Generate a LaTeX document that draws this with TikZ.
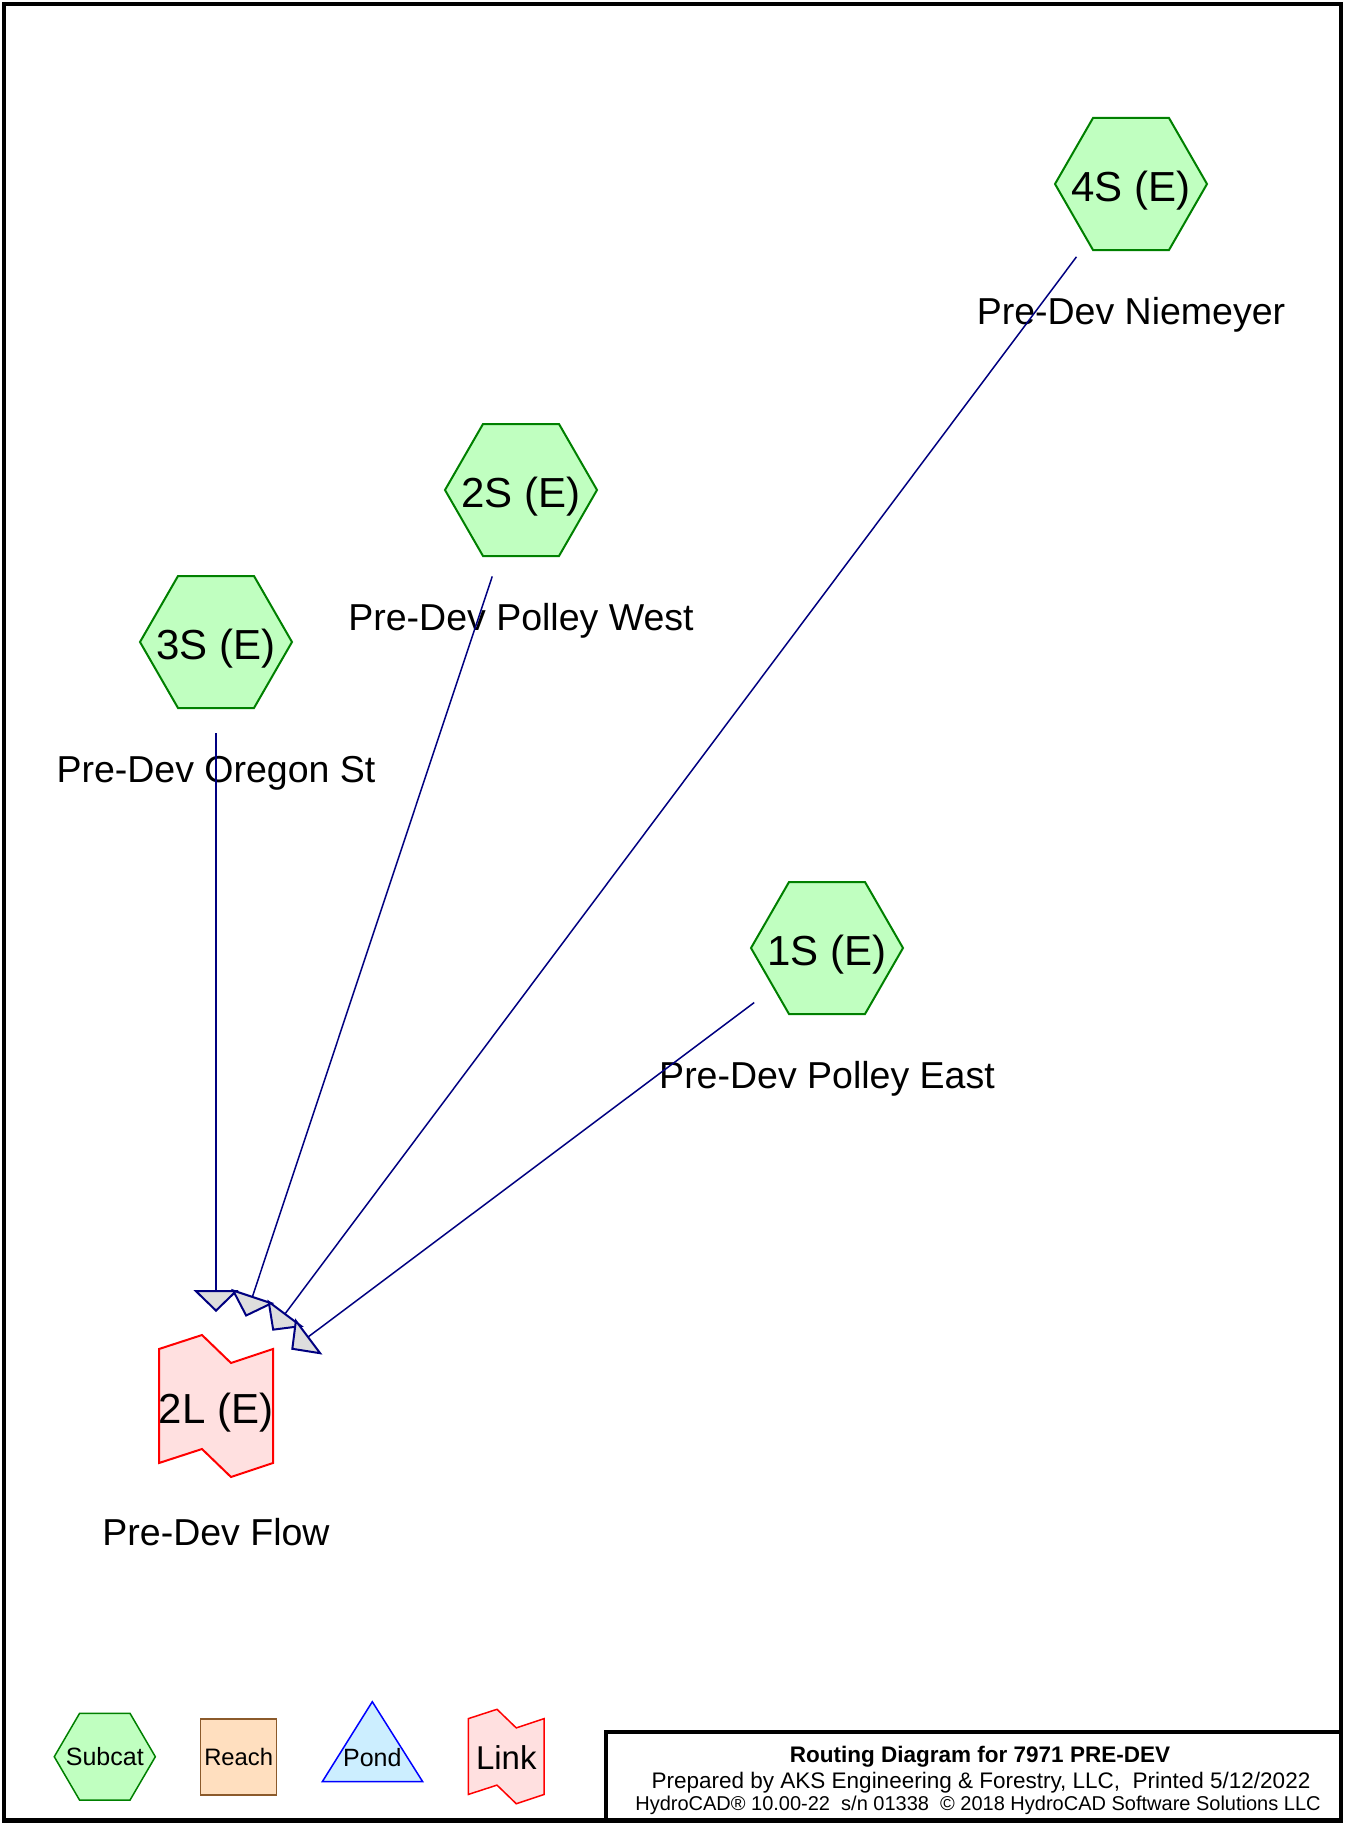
\documentclass[tikz,border=0pt]{standalone}
\usepackage{fontspec}
\setmainfont{Liberation Sans}
\usetikzlibrary{arrows.meta,calc}
\definecolor{subfill}{RGB}{192,255,192}
\definecolor{subline}{RGB}{0,128,0}
\definecolor{linkfill}{RGB}{255,224,224}
\definecolor{linkline}{RGB}{255,0,0}
\definecolor{reachfill}{RGB}{255,223,191}
\definecolor{reachline}{RGB}{139,90,43}
\definecolor{pondfill}{RGB}{204,238,255}
\definecolor{pondline}{RGB}{0,0,255}
\definecolor{flow}{RGB}{0,0,128}
\definecolor{tipfill}{RGB}{221,221,221}
\newcommand{\idsize}{\fontsize{42}{50}\selectfont}
\newcommand{\capsize}{\fontsize{37.5}{45}\selectfont}
\newcommand{\legsize}{\fontsize{25}{30}\selectfont}
\newcommand{\ttlsize}{\fontsize{22.5}{27}\selectfont}
\newcommand{\vernsize}{\fontsize{20}{24}\selectfont}
\tikzset{
  subcat/.style={draw=subline,fill=subfill,line width=2pt},
  linkbox/.style={draw=linkline,fill=linkfill,line width=2pt},
  idtext/.style={font=\idsize,inner sep=0pt,text height=42pt,text depth=7pt},
  caption/.style={anchor=base,font=\capsize},
  flowline/.style={draw=flow,line width=1.5pt,
    -{Triangle[length=22pt,width=45pt,fill=tipfill,line width=2pt]}},
  hexpic/.pic={\path[pic actions] (-76,0) -- (-38,-66) -- (38,-66) -- (76,0)
    -- (38,66) -- (-38,66) -- cycle;},
  linkpic/.pic={\path[pic actions] (-57,-57) -- (-14,-71) -- (15,-43) -- (57,-57)
    -- (57,57) -- (15,71) -- (-14,43) -- (-57,57) -- cycle;}
}

\begin{document}
\begin{tikzpicture}[x=1pt,y=-1pt]
  \useasboundingbox (0,0) rectangle (1345,1825);
  % subcatchments
  \pic[subcat] at (1131,184) {hexpic};
  \pic[subcat] at (521,490) {hexpic};
  \pic[subcat] at (216,642) {hexpic};
  \pic[subcat] at (827,948) {hexpic};
  \node[idtext] (s4) at (1131,184) {4S (E)};
  \node[idtext] (s2) at (521,490) {2S (E)};
  \node[idtext] (s3) at (216,642) {3S (E)};
  \node[idtext] (s1) at (827,948) {1S (E)};
  \node[caption] (s4cap) at ($(s4)+(0,140)$) {Pre-Dev Niemeyer};
  \node[caption] (s2cap) at ($(s2)+(0,140)$) {Pre-Dev Polley West};
  \node[caption] (s3cap) at ($(s3)+(0,140)$) {Pre-Dev Oregon St};
  \node[caption] (s1cap) at ($(s1)+(0,140)$) {Pre-Dev Polley East};
  % link
  \pic[linkbox] at (216,1406) {linkpic};
  \node[idtext] (l2) at (216,1406) {2L (E)};
  \node[caption] (l2cap) at ($(l2)+(0,139)$) {Pre-Dev Flow};
  % routing
  \draw[flowline] ($(s3)!91pt!(l2)$) -- ($(l2)!94pt!(s3)$);
  \draw[flowline] ($(s2)!91pt!(l2)$) -- ($(l2)!94pt!(s2)$);
  \draw[flowline] ($(s4)!91pt!(l2)$) -- ($(l2)!94pt!(s4)$);
  \draw[flowline] ($(s1)!91pt!(l2)$) -- ($(l2)!94pt!(s1)$);
  % legend
  \pic[subcat,line width=1.5pt,xscale=0.665,yscale=0.656] at (104.8,1756.7) {hexpic};
  \node[font=\legsize] (subkey) at (104.8,1757) {Subcat};
  \draw[draw=reachline,fill=reachfill,line width=1.5pt] (200.7,1719) rectangle (276.7,1795);
  \node[font=\fontsize{23.8}{28}\selectfont] (reachkey) at (238.7,1757) {Reach};
  \draw[draw=pondline,fill=pondfill,line width=1.5pt]
    (372.3,1701.7) -- (322.3,1781.7) -- (422.7,1781.7) -- cycle;
  \node[font=\legsize] (pondkey) at (372.3,1758) {Pond};
  \pic[linkbox,line width=1.5pt,scale=0.665] at (506.3,1756.5) {linkpic};
  \node[font=\fontsize{33}{38}\selectfont] (linkkey) at (506.3,1757.5) {Link};
  % frame and title block
  \draw[line width=4.5pt] (4,4) rectangle (1341,1820.5);
  \draw[line width=4.5pt] (606,1820.5) |- (1341,1732);
  \node[anchor=base,font=\bfseries\ttlsize] (ttl) at (980,1762)
    {Routing Diagram for 7971 PRE-DEV};
  \node[anchor=base,font=\ttlsize] (prep) at (981,1788)
    {Prepared by AKS Engineering \& Forestry, LLC,\ \ Printed 5/12/2022};
  \node[anchor=base,font=\vernsize] (vern) at (978,1810.5)
    {HydroCAD® 10.00-22\ \ s/n 01338\ \ © 2018 HydroCAD Software Solutions LLC};
\end{tikzpicture}
\end{document}
